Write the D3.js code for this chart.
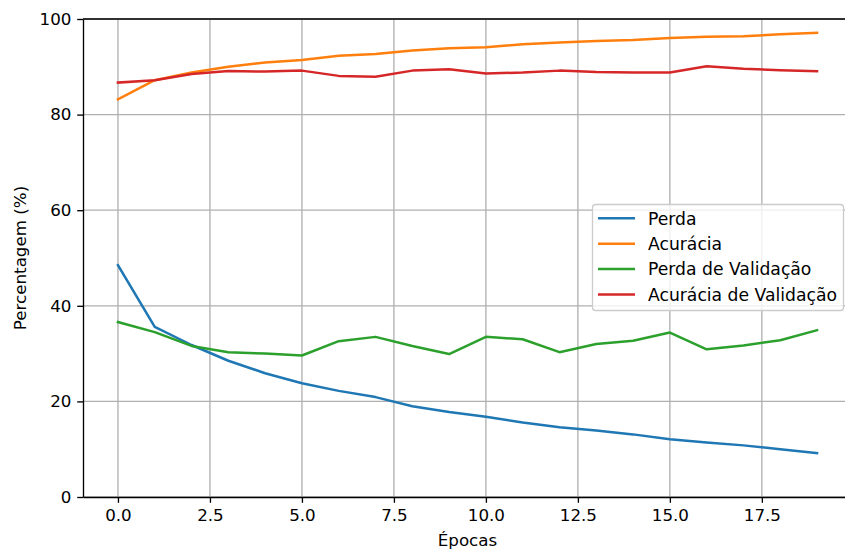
<!DOCTYPE html>
<html>
<head>
<meta charset="utf-8">
<script src="https://cdn.jsdelivr.net/npm/d3@7"></script>
<style>
  body { margin: 0; background: #fff; }
  svg { display: block; font-family: "DejaVu Sans", sans-serif; }
</style>
</head>
<body>
<svg></svg>
<script>
const width = 845;
const height = 551;

// epochs 0..19
const epochs = d3.range(0, 20);

const perda = [48.5, 35.6, 31.8, 28.5, 25.9, 23.8, 22.2, 20.9, 19.0, 17.8,
               16.8, 15.6, 14.6, 13.9, 13.1, 12.1, 11.4, 10.8, 10.0, 9.2];
const acuracia = [83.2, 87.2, 88.8, 90.0, 90.9, 91.4, 92.3, 92.7, 93.4, 93.9,
                  94.1, 94.7, 95.1, 95.4, 95.6, 96.0, 96.3, 96.4, 96.8, 97.1];
const perdaVal = [36.6, 34.5, 31.6, 30.3, 30.0, 29.6, 32.6, 33.5, 31.6, 29.9,
                  33.5, 33.0, 30.3, 32.0, 32.7, 34.4, 30.9, 31.7, 32.8, 34.9];
const acuraciaVal = [86.7, 87.2, 88.5, 89.1, 89.0, 89.2, 88.1, 87.9, 89.2, 89.5,
                     88.6, 88.8, 89.2, 88.9, 88.8, 88.8, 90.1, 89.6, 89.3, 89.1];

const seriesNames = ["Perda", "Acurácia", "Perda de Validação", "Acurácia de Validação"];
const seriesColors = ["#1f77b4", "#ff7f0e", "#2ca02c", "#d62728"];
const seriesValues = [perda, acuracia, perdaVal, acuraciaVal];

const xTicks = [0, 2.5, 5, 7.5, 10, 12.5, 15, 17.5];
const yTicks = [0, 20, 40, 60, 80, 100];

const svg = d3.select("svg")
  .attr("width", width)
  .attr("height", height);

const plotLeft = 83, plotRight = 852, plotTop = 19, plotBottom = 497;
const fontSize = 16.7;
const legendFontSize = 17.2;
const tickLen = 5.8;

const x = d3.scaleLinear().domain([-0.95, 19.95]).range([plotLeft, plotRight]);
const y = d3.scaleLinear().domain([0, 100]).range([plotBottom, plotTop]);

// grid
const grid = svg.append("g");
grid.selectAll("line.vgrid")
  .data(xTicks)
  .enter()
  .append("line")
  .attr("class", "vgrid")
  .attr("x1", d => x(d)).attr("x2", d => x(d))
  .attr("y1", plotTop).attr("y2", plotBottom)
  .attr("stroke", "#b0b0b0")
  .attr("stroke-width", 1.33);
grid.selectAll("line.hgrid")
  .data(yTicks)
  .enter()
  .append("line")
  .attr("class", "hgrid")
  .attr("x1", plotLeft).attr("x2", plotRight)
  .attr("y1", d => y(d)).attr("y2", d => y(d))
  .attr("stroke", "#b0b0b0")
  .attr("stroke-width", 1.33);

// lines
const line = d3.line()
  .x((d, i) => x(epochs[i]))
  .y(d => y(d));

svg.append("g")
  .selectAll("path")
  .data(seriesValues)
  .enter()
  .append("path")
  .attr("d", d => line(d))
  .attr("fill", "none")
  .attr("stroke", (d, i) => seriesColors[i])
  .attr("stroke-width", 2.5)
  .attr("stroke-linejoin", "round")
  .attr("stroke-linecap", "square");

// axes
const xAxis = svg.append("g")
  .attr("transform", `translate(0,${plotBottom})`)
  .call(d3.axisBottom(x).tickValues(xTicks).tickFormat(d3.format(".1f"))
    .tickSizeInner(tickLen).tickSizeOuter(0).tickPadding(5.8));
const yAxis = svg.append("g")
  .attr("transform", `translate(${plotLeft},0)`)
  .call(d3.axisLeft(y).tickValues(yTicks).tickFormat(d3.format("d"))
    .tickSizeInner(tickLen).tickSizeOuter(0).tickPadding(5.8));

[xAxis, yAxis].forEach(ax => {
  ax.select(".domain").attr("stroke", "#000").attr("stroke-width", 1.33);
  ax.selectAll(".tick line").attr("stroke", "#000").attr("stroke-width", 1.33);
  ax.selectAll(".tick text")
    .attr("fill", "#000")
    .style("font-family", "DejaVu Sans")
    .style("font-size", fontSize + "px");
});
xAxis.selectAll(".tick text").attr("dy", "0.76em");

// top spine
svg.append("line")
  .attr("x1", plotLeft).attr("x2", plotRight)
  .attr("y1", plotTop).attr("y2", plotTop)
  .attr("stroke", "#000")
  .attr("stroke-width", 1.33);

// axis titles
svg.append("text")
  .attr("x", x(9.5))
  .attr("y", 546)
  .attr("text-anchor", "middle")
  .attr("font-size", fontSize + "px")
  .text("Épocas");

svg.append("text")
  .attr("transform", `translate(26,${(plotTop + plotBottom) / 2}) rotate(-90)`)
  .attr("text-anchor", "middle")
  .attr("font-size", fontSize + "px")
  .text("Percentagem (%)");

// legend
const legend = svg.append("g");
legend.append("rect")
  .attr("x", 592.5).attr("y", 204.5)
  .attr("width", 251).attr("height", 106)
  .attr("rx", 3)
  .attr("fill", "#fff")
  .attr("fill-opacity", 0.8)
  .attr("stroke", "#cccccc")
  .attr("stroke-width", 1.33);

const items = legend.selectAll("g.item")
  .data(seriesNames)
  .enter()
  .append("g")
  .attr("class", "item")
  .attr("transform", (d, i) => `translate(0,${218.3 + i * 25.4})`);

items.append("line")
  .attr("x1", 598).attr("x2", 635)
  .attr("y1", 0).attr("y2", 0)
  .attr("stroke", (d, i) => seriesColors[i])
  .attr("stroke-width", 2.5);

items.append("text")
  .attr("x", 648)
  .attr("y", 0)
  .attr("dy", "0.36em")
  .attr("font-size", legendFontSize + "px")
  .text(d => d);
</script>
</body>
</html>
